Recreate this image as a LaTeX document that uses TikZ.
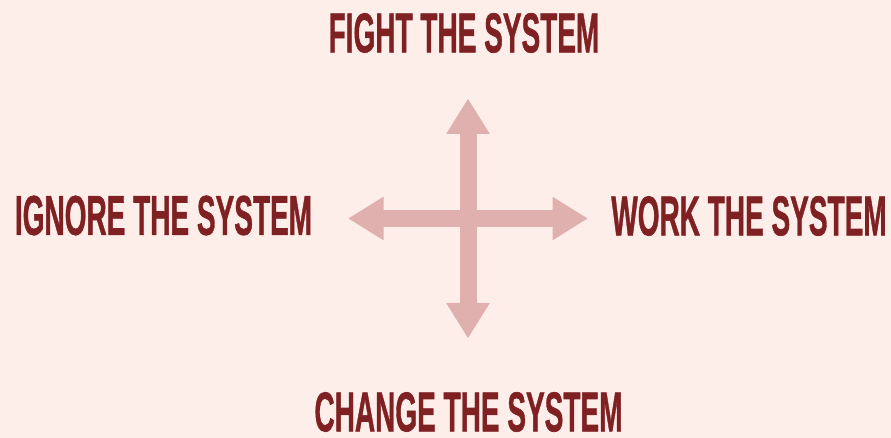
\documentclass[tikz,border=0pt]{standalone}
\usepackage{fontspec}
\usepackage{graphicx}
\setmainfont{Liberation Sans}[BoldFeatures={FakeBold=1.2}]
\usepackage{tikz}
\usetikzlibrary{arrows.meta, positioning}

\definecolor{paper}{HTML}{FDEEEA}
\definecolor{cross}{HTML}{DFB0AD}
\definecolor{maroon}{HTML}{7F2023}

% tall condensed caps
\newcommand{\squeeze}[1]{\scalebox{0.5}[1]{#1}}

\begin{document}
\begin{tikzpicture}[
    x=1pt, y=1pt,
    slogan/.style={inner sep=0pt, text=maroon, font=\fontsize{56}{56}\selectfont\bfseries},
    bar/.style={cross, line width=17pt, {Triangle[length=35.5pt, width=41pt]}-{Triangle[length=35.5pt, width=41pt]}},
]
\fill[paper] (0,0) rectangle (891,438);
\useasboundingbox (0,0) rectangle (891,438);

% the cross in the middle
\coordinate (hub) at (468,219.5);
\coordinate (top) at (468,339.5);
\coordinate (bottom) at (468,99.5);
\coordinate (left) at (348,219.5);
\coordinate (right) at (588,219.5);

\draw[bar] (bottom) -- (top);
\draw[bar] (left) -- (right);

\node[slogan] (fight) at (464,405) {\squeeze{FIGHT THE SYSTEM}};
\node[slogan] (ignore) at (163.5,222.5) {\squeeze{IGNORE THE SYSTEM}};
\node[slogan] (work) at (749,222) {\squeeze{WORK THE SYSTEM}};
\node[slogan] (change) at (468.5,26) {\squeeze{CHANGE THE SYSTEM}};
\end{tikzpicture}
\end{document}
